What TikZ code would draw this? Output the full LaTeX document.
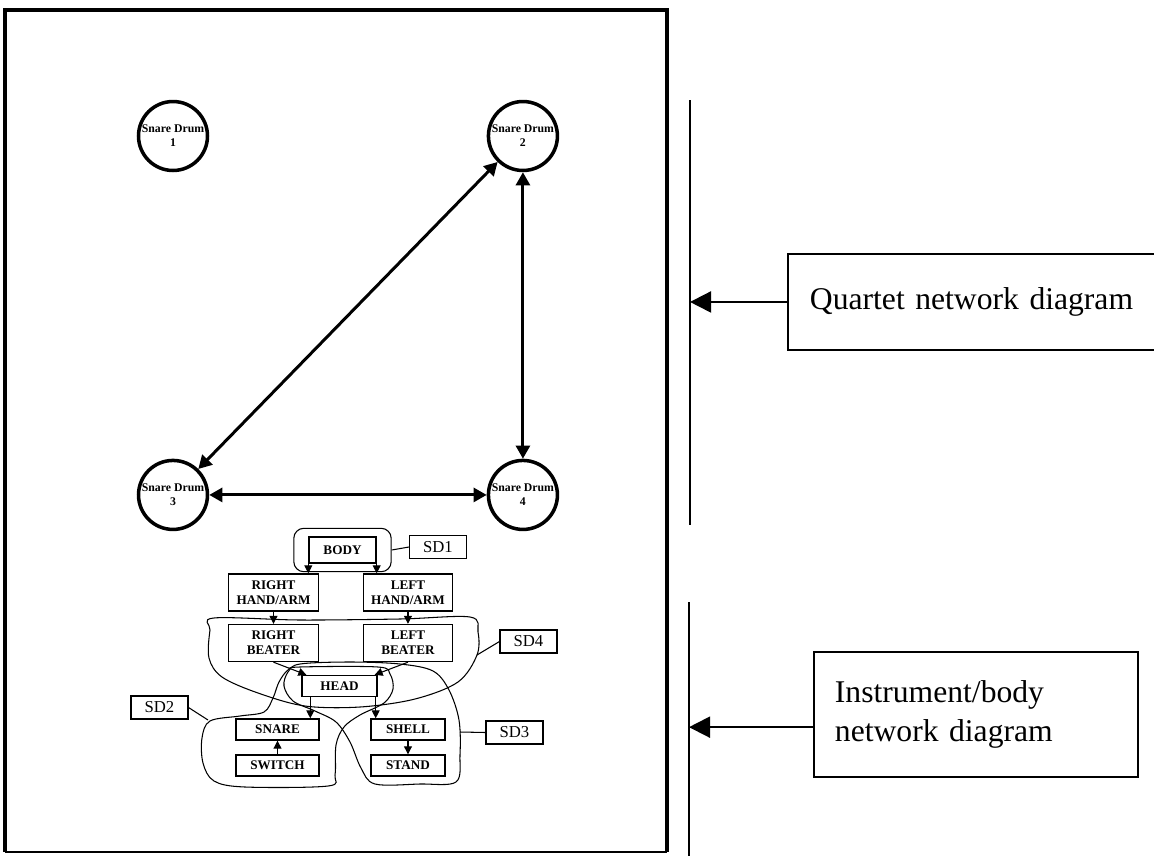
\documentclass[tikz,border=0pt]{standalone}
\usepackage{fontspec}
\setmainfont{Liberation Serif}
\usetikzlibrary{positioning,arrows.meta,fit,calc}

\begin{document}
\begin{tikzpicture}[x=0.02cm,y=-0.02cm,on grid,
  drum/.style={circle,draw,line width=2pt,minimum size=1.38cm,inner sep=0pt,align=center,font=\bfseries\fontsize{6.7}{8}\selectfont},
  duo/.style={{Triangle[length=7.5pt,width=8pt]}-{Triangle[length=7.5pt,width=8pt]},line width=1.7pt},
  part/.style={draw,line width=0.8pt,inner sep=0pt,align=center,font=\bfseries\fontsize{7.5}{8.6}\selectfont},
  limb/.style={part,minimum width=1.79cm,minimum height=0.74cm},
  tag/.style={draw,line width=0.6pt,inner sep=0pt,minimum width=1.14cm,minimum height=0.46cm,font=\fontsize{9.5}{11}\selectfont},
  flow/.style={-{Triangle[length=4.5pt,width=4.5pt]},line width=0.6pt},
  blob/.style={line width=0.6pt},
  note/.style={draw,line width=1.1pt,inner ysep=0pt,align=left,font=\fontsize{18}{22.7}\selectfont},
  pointer/.style={-{Triangle[length=12pt,width=12pt]},line width=1.1pt}]
  \useasboundingbox (0,0) rectangle (1154,856);

  % frame
  \draw[line width=2.8pt] (5,852) -- (5,10) -- (667,10) -- (667,852);
  \draw[line width=1.4pt] (5,852) -- (667,852);

  % quartet
  \node[drum] (sd1) at (173,136) {Snare Drum\\1};
  \node[drum] (sd2) [right=7cm of sd1] {Snare Drum\\2};
  \node[drum] (sd3) [below=7.18cm of sd1] {Snare Drum\\3};
  \node[drum] (sd4) [right=7cm of sd3] {Snare Drum\\4};
  \draw[duo] (sd2) -- (sd3);
  \draw[duo] (sd2) -- (sd4);
  \draw[duo] (sd3) -- (sd4);

  % instrument/body
  \node[part,minimum width=1.34cm,minimum height=0.52cm] (body) at (342.5,550) {BODY};
  \node[draw,rounded corners=0.2cm,line width=0.6pt,inner xsep=0.29cm,inner ysep=0.16cm,fit=(body)] (grp) {};
  \node[limb] (rarm) at (273.5,592.5) {RIGHT\\HAND/ARM};
  \node[limb] (larm) [right=2.69cm of rarm] {LEFT\\HAND/ARM};
  \node[limb] (rbeat) [below=1.01cm of rarm] {RIGHT\\BEATER};
  \node[limb] (lbeat) [below=1.01cm of larm] {LEFT\\BEATER};
  \node[part,minimum width=1.5cm,minimum height=0.42cm] (head) at (339.5,686) {HEAD};
  \node[part,minimum width=1.66cm,minimum height=0.42cm] (snare) [below left=0.87cm and 1.24cm of head] {SNARE};
  \node[part,minimum width=1.66cm,minimum height=0.42cm] (switch) [below=0.72cm of snare] {SWITCH};
  \node[part,minimum width=1.48cm,minimum height=0.42cm] (shell) [below right=0.87cm and 1.37cm of head] {SHELL};
  \node[part,minimum width=1.48cm,minimum height=0.42cm] (stand) [below=0.72cm of shell] {STAND};

  \draw[flow] (body.south west) -- (body.south west |- rarm.north);
  \draw[flow] (body.south east) -- (body.south east |- larm.north);
  \draw[flow] (rarm) -- (rbeat);
  \draw[flow] (larm) -- (lbeat);
  \draw[flow] (rbeat.south) -- ($(head.north west)+(5,0)$);
  \draw[flow] (lbeat.south) -- ($(head.north east)+(-3,0)$);
  \coordinate (hl) at ($(head.south west)+(9,0)$);
  \coordinate (hr) at ($(head.south east)+(-2,0)$);
  \draw[flow] (hl) -- (hl |- snare.north);
  \draw[flow] (hr) -- (hr |- shell.north);
  \draw[flow] (switch) -- (snare);
  \draw[flow] (shell) -- (stand);

  % groupings
  \draw[blob] plot[smooth cycle,tension=0.55] coordinates {(214,618) (300,620) (400,619) (470,617) (478,632) (477,655) (458,682) (415,699) (360,707) (305,706) (258,693) (222,677) (209,658) (210,630)};
  \draw[blob] plot[smooth cycle,tension=0.55] coordinates {(375,784) (420,784) (456,782) (460,755) (459,720) (449,690) (433,671) (400,664) (350,662) (300,664) (288,672) (284,686) (293,701) (315,711) (336,722) (350,742) (361,768)};
  \draw[blob] plot[smooth cycle,tension=0.55] coordinates {(300,667) (378,667) (390,674) (393,689) (384,703) (360,715) (344,727) (336,745) (335,775) (328,786) (245,787) (214,781) (203,763) (202,738) (210,721) (240,716) (264,712) (273,698) (279,682) (288,670)};
  \coordinate (b2) at (208,720);
  \coordinate (b3) at (460,732);
  \coordinate (b4) at (477,655);
  \node[tag] (t1) at (438,547) {SD1};
  \node[tag] (t2) at (159.5,707.5) {SD2};
  \node[tag] (t3) at (514.5,732.5) {SD3};
  \node[tag] (t4) at (528.5,641.5) {SD4};
  \draw[blob] (grp.east) -- (t1.west);
  \draw[blob] (t2.east) -- (b2);
  \draw[blob] (b3) -- (t3.west);
  \draw[blob] (b4) -- (t4.west);

  % captions
  \coordinate (l1t) at (690,100);
  \coordinate (l1b) at (690,525);
  \coordinate (l2t) at (689,602);
  \coordinate (l2b) at (689,860);
  \draw[line width=1.1pt] (l1t) -- (l1b);
  \draw[line width=1.1pt] (l2t) -- (l2b);
  \node[note,anchor=north west,inner xsep=0.44cm,text width=6.62cm,minimum height=1.92cm] (qbox) at (787,253) {Quartet network diagram};
  \draw[pointer] (qbox.west) -- (qbox.west -| l1t);
  \node[note,anchor=north west,inner xsep=0.42cm,text width=5.64cm,minimum height=2.5cm] (ibox) at (813,651) {Instrument/body\\network diagram};
  \coordinate (ia) at ($(ibox.south west)!0.4!(ibox.north west)$);
  \draw[pointer] (ia) -- (ia -| l2t);
\end{tikzpicture}
\end{document}
